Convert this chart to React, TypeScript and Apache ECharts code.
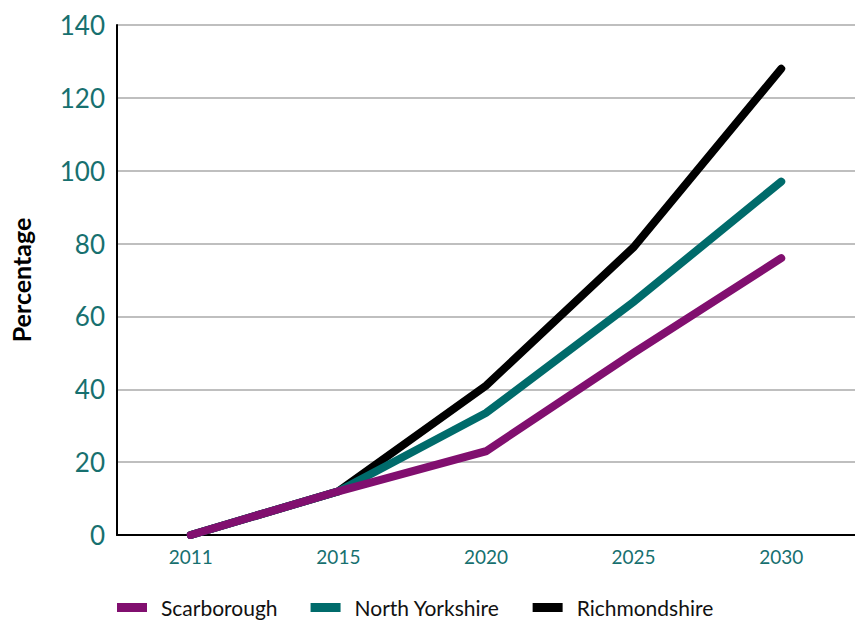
import React, { useEffect, useRef } from "react";
import * as echarts from "echarts";

const years = ["2011", "2015", "2020", "2025", "2030"];
const scarborough = [0, 12, 23, 50, 76];
const northYorkshire = [0, 12, 33.5, 64, 97];
const richmondshire = [0, 12, 41, 79, 128];
const yTicks = { min: 0, max: 140, interval: 20 };

const TEAL_TEXT = "#17706f";
const FONT = "Lato, 'Open Sans', sans-serif";

export default function App() {
  const ref = useRef<HTMLDivElement>(null);
  useEffect(() => {
    if (!ref.current) return;
    const chart = echarts.init(ref.current, undefined, { renderer: "svg" });
    const lineSeries = (name: string, data: number[], color: string, z: number) => ({
      name,
      type: "line",
      data,
      z,
      symbol: "none",
      lineStyle: { width: 8, color, cap: "round", join: "miter" },
      itemStyle: { color },
    });
    chart.setOption({
      animation: false,
      textStyle: { fontFamily: FONT },
      grid: { left: 117, top: 25, width: 740, bottom: 88, containLabel: false },
      legend: {
        left: 112,
        bottom: 0,
        icon: "rect",
        itemWidth: 30,
        itemHeight: 9,
        itemGap: 33,
        textStyle: { fontSize: 21, color: "#111", fontFamily: FONT, padding: [0, 0, 0, 9] },
        data: ["Scarborough", "North Yorkshire", "Richmondshire"],
      },
      xAxis: {
        type: "category",
        data: years,
        boundaryGap: true,
        axisLine: { lineStyle: { color: "#000", width: 2 } },
        axisTick: { inside: true, length: 12, lineStyle: { color: "#000", width: 1.5 } },
        axisLabel: { color: TEAL_TEXT, fontSize: 19, margin: 12, fontFamily: FONT },
      },
      yAxis: {
        type: "value",
        min: yTicks.min,
        max: yTicks.max,
        interval: yTicks.interval,
        name: "Percentage",
        nameLocation: "middle",
        nameGap: 84,
        nameTextStyle: { color: "#000", fontSize: 25, fontWeight: "bold", fontFamily: FONT },
        axisLine: { show: true, lineStyle: { color: "#000", width: 2 } },
        axisTick: { show: false },
        axisLabel: { color: TEAL_TEXT, fontSize: 26, margin: 12, fontFamily: FONT },
        splitLine: { lineStyle: { color: "#aaaaaa", width: 1.5 } },
      },
      series: [
        lineSeries("Richmondshire", richmondshire, "#000000", 2),
        lineSeries("North Yorkshire", northYorkshire, "#006b6b", 3),
        lineSeries("Scarborough", scarborough, "#810f6f", 4),
      ],
    });
    return () => chart.dispose();
  }, []);
  return <div ref={ref} style={{ width: 855, height: 623, position: "absolute", left: 0, top: 0 }} />;
}
